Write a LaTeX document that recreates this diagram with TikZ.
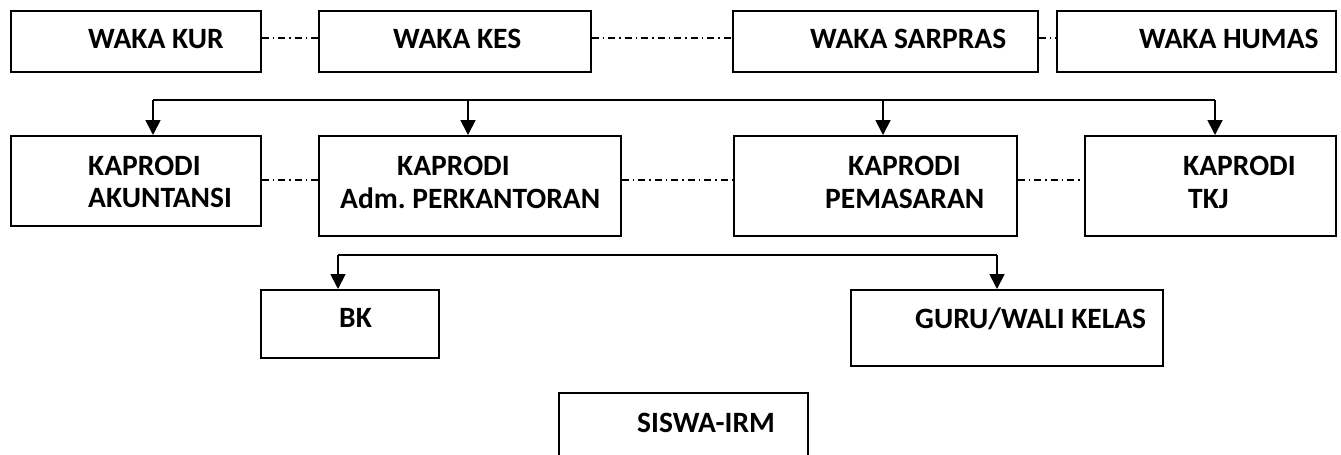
\documentclass[tikz,border=0pt]{standalone}
\usepackage{fontspec}
\setmainfont{Carlito}
\usetikzlibrary{arrows.meta}
\begin{document}
\begin{tikzpicture}[x=1pt,y=-1pt,
  box/.style={draw, line width=1.6pt, rectangle, inner sep=0pt, anchor=north west},
  lbl/.style={anchor=base west, inner sep=0pt, font=\fontsize{29.5}{29.5}\selectfont\bfseries},
  link/.style={line width=1.8pt},
  arr/.style={line width=1.8pt, -{Triangle[width=15pt,length=15pt]}},
  dd/.style={line width=1.4pt, dash pattern=on 7pt off 4pt on 1.5pt off 4pt}]
\useasboundingbox (0,0) rectangle (1341,455);
\clip (0,0) rectangle (1341,455);

% --- wakil kepala sekolah
\node[box, minimum width=250pt, minimum height=61pt] (kur) at (10,10) {};
\node[box, minimum width=272pt, minimum height=61pt] (kes) at (318,10) {};
\node[box, minimum width=305pt, minimum height=61pt] (sar) at (732,10) {};
\node[box, minimum width=279pt, minimum height=61pt] (hum) at (1056,10) {};
\node[lbl] (tkur) at (88,48) {WAKA KUR};
\node[lbl] (tkes) at (393,48) {WAKA KES};
\node[lbl] (tsar) at (810,48) {WAKA SARPRAS};
\node[lbl] (thum) at (1139,48) {WAKA HUMAS};
\coordinate (ytop) at (0,38);
\draw[dd] (kur.east |- ytop) -- (kes.west |- ytop);
\draw[dd] (kes.east |- ytop) -- (sar.west |- ytop);
\draw[dd] (sar.east |- ytop) -- (hum.west |- ytop);

% --- ketua program studi
\node[box, minimum width=250pt, minimum height=90pt] (ak) at (10,135) {};
\node[box, minimum width=302pt, minimum height=100pt] (adm) at (318,135) {};
\node[box, minimum width=283pt, minimum height=100pt] (pem) at (733,135) {};
\node[box, minimum width=251pt, minimum height=100pt] (tkj) at (1084,135) {};
\node[lbl] (tak1) at (88,175) {KAPRODI};
\node[lbl] (tak2) at (88,207) {AKUNTANSI};
\node[lbl] (tadm1) at (397,175) {KAPRODI};
\node[lbl] (tadm2) at (340,208) {Adm.\ PERKANTORAN};
\node[lbl] (tpem1) at (848,175) {KAPRODI};
\node[lbl] (tpem2) at (825,208) {PEMASARAN};
\node[lbl] (ttkj1) at (1183,175) {KAPRODI};
\node[lbl] (ttkj2) at (1188,208) {TKJ};
\coordinate (ymid) at (0,180);
\draw[dd] (ak.east |- ymid) -- (adm.west |- ymid);
\draw[dd] (adm.east |- ymid) -- (pem.west |- ymid);
\draw[dd] (pem.east |- ymid) -- (tkj.west |- ymid);

% bus to the program heads
\coordinate (bus1) at (153,100);
\coordinate (bus2) at (468,100);
\coordinate (bus3) at (883,100);
\coordinate (bus4) at (1215,100);
\draw[link] (bus1) -- (bus4);
\draw[arr] (bus1) -- (bus1 |- ak.north);
\draw[arr] (bus2) -- (bus2 |- adm.north);
\draw[arr] (bus3) -- (bus3 |- pem.north);
\draw[arr] (bus4) -- (bus4 |- tkj.north);

% --- BK and teachers
\node[box, minimum width=178pt, minimum height=68pt] (bk) at (260,289) {};
\node[box, minimum width=312pt, minimum height=76pt] (guru) at (850,289) {};
\node[lbl] (tbk) at (339,327) {BK};
\node[lbl] (tguru) at (915,328) {GURU/WALI KELAS};
\coordinate (bus5) at (338,255);
\coordinate (bus6) at (997,255);
\draw[link] (bus5) -- (bus6);
\draw[arr] (bus5) -- (bus5 |- bk.north);
\draw[arr] (bus6) -- (bus6 |- guru.north);

% --- students
\node[box, minimum width=249pt, minimum height=100pt] (siswa) at (558,392) {};
\node[lbl] (tsiswa) at (637,432) {SISWA-IRM};
\end{tikzpicture}
\end{document}
